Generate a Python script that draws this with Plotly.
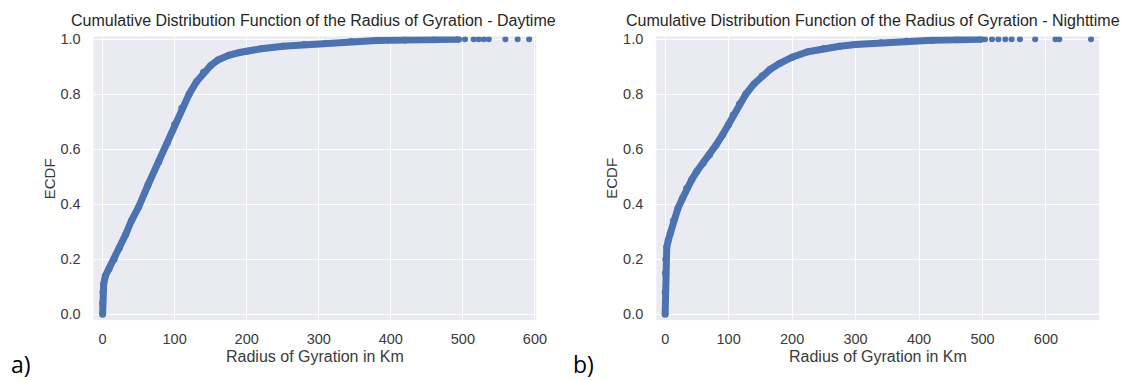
import plotly.graph_objects as go

# ---- data ----
day_radius = [0, 0, 0.5, 1.5, 4, 9, 16, 23, 32, 40, 50, 63, 78, 90, 100, 110, 120, 130,
              140, 150, 160, 175, 190, 200, 220, 250, 280, 310, 345, 380, 420, 460, 494]
day_ecdf = [0.0, 0.04, 0.08, 0.11, 0.14, 0.165, 0.20, 0.24, 0.29, 0.34, 0.39, 0.47, 0.555,
            0.625, 0.69, 0.75, 0.80, 0.845, 0.88, 0.905, 0.925, 0.942, 0.952, 0.957, 0.966,
            0.975, 0.981, 0.986, 0.992, 0.996, 0.998, 0.999, 1.0]
day_tail_radius = [503, 515, 522, 529, 536, 559, 576, 592]
day_tail_ecdf = [1.0, 1.0, 1.0, 1.0, 1.0, 1.0, 1.0, 1.0]

night_radius = [0, 0, 0.3, 1, 2.5, 5, 8, 13, 20, 27, 34, 42, 50, 60, 70, 80, 91, 100, 107,
                117, 127, 140, 153, 165, 180, 200, 225, 250, 275, 300, 340, 380, 420, 460, 498]
night_ecdf = [0.0, 0.08, 0.15, 0.20, 0.245, 0.27, 0.295, 0.34, 0.385, 0.42, 0.458, 0.49,
              0.52, 0.55, 0.58, 0.615, 0.655, 0.69, 0.725, 0.765, 0.80, 0.838, 0.868, 0.89,
              0.912, 0.935, 0.955, 0.967, 0.975, 0.981, 0.988, 0.993, 0.997, 0.999, 1.0]
night_tail_radius = [504, 515, 525, 536, 546, 559, 583, 615, 621, 671]
night_tail_ecdf = [1.0, 1.0, 1.0, 1.0, 1.0, 1.0, 1.0, 1.0, 1.0, 1.0]

x_ticks = [0, 100, 200, 300, 400, 500, 600]
y_ticks = [0.0, 0.2, 0.4, 0.6, 0.8, 1.0]
y_tick_text = ["0.0", "0.2", "0.4", "0.6", "0.8", "1.0"]

titles = ["Cumulative Distribution Function of the Radius of Gyration - Daytime",
          "Cumulative Distribution Function of the Radius of Gyration - Nighttime"]
x_title = "Radius of Gyration in Km"
y_title = "ECDF"
panel_tags = ["a)", "b)"]

# ---- styling ----
W, H = 1137, 381
BLUE = "#4C72B0"
BG = "#EAEAF2"
TXT = "#3a3a3a"
FONT = "Liberation Sans, Arial, sans-serif"

fig = go.Figure()

fig.add_trace(go.Scatter(x=day_radius, y=day_ecdf, mode="lines+markers",
                         line=dict(color=BLUE, width=7), marker=dict(color=BLUE, size=7),
                         xaxis="x", yaxis="y", showlegend=False, hoverinfo="skip"))
fig.add_trace(go.Scatter(x=day_tail_radius, y=day_tail_ecdf, mode="markers",
                         marker=dict(color=BLUE, size=6),
                         xaxis="x", yaxis="y", showlegend=False))
fig.add_trace(go.Scatter(x=night_radius, y=night_ecdf, mode="lines+markers",
                         line=dict(color=BLUE, width=7), marker=dict(color=BLUE, size=7),
                         xaxis="x2", yaxis="y2", showlegend=False, hoverinfo="skip"))
fig.add_trace(go.Scatter(x=night_tail_radius, y=night_tail_ecdf, mode="markers",
                         marker=dict(color=BLUE, size=6),
                         xaxis="x2", yaxis="y2", showlegend=False))

def px_x(p):
    return p / W

def px_y(p):
    return 1 - p / H

left_dom = [px_x(94.5), px_x(541.6)]
right_dom = [px_x(662.7), px_x(1110)]
y_dom = [px_y(321), px_y(32)]

common_x = dict(showgrid=True, gridcolor="white", gridwidth=1, zeroline=False,
                showline=False, ticks="", tickvals=x_ticks,
                tickfont=dict(family=FONT, size=14.5, color=TXT), ticklabelstandoff=8)
common_y = dict(showgrid=True, gridcolor="white", gridwidth=1, zeroline=False,
                showline=False, ticks="", tickvals=y_ticks, ticktext=y_tick_text,
                range=[-0.0214, 1.0107],
                tickfont=dict(family=FONT, size=14.5, color=TXT), ticklabelstandoff=12)

fig.update_layout(
    width=W, height=H,
    margin=dict(l=0, r=0, t=0, b=0),
    paper_bgcolor="white",
    plot_bgcolor=BG,
    xaxis=dict(domain=left_dom, range=[-12.5, 602], anchor="y", **common_x),
    yaxis=dict(domain=y_dom, anchor="x", **common_y),
    xaxis2=dict(domain=right_dom, range=[-14, 684], anchor="y2", **common_x),
    yaxis2=dict(domain=y_dom, anchor="x2", **common_y),
)

anns = []
for dom, t, cxp in zip([left_dom, right_dom], titles, [317, 882]):
    cx = (dom[0] + dom[1]) / 2
    anns.append(dict(text=t, x=px_x(cxp), y=px_y(16), xref="paper", yref="paper",
                     xanchor="center", yanchor="middle", showarrow=False,
                     font=dict(family=FONT, size=16, color="#262626")))
    anns.append(dict(text=x_title, x=cx, y=px_y(358), xref="paper", yref="paper",
                     xanchor="center", yanchor="middle", showarrow=False,
                     font=dict(family=FONT, size=16, color=TXT)))

for xp in [50, 618]:
    anns.append(dict(text=y_title, x=px_x(xp), y=px_y(177), xref="paper", yref="paper",
                     xanchor="center", yanchor="middle", showarrow=False, textangle=-90,
                     font=dict(family=FONT, size=15, color=TXT)))
for xp, tag in zip([21, 589], panel_tags):
    anns.append(dict(text=tag, x=px_x(xp), y=px_y(366), xref="paper", yref="paper",
                     xanchor="center", yanchor="middle", showarrow=False,
                     font=dict(family="Open Sans, Liberation Sans, sans-serif", size=23, color="black")))
fig.update_layout(annotations=anns)

fig.write_html("out.html")
